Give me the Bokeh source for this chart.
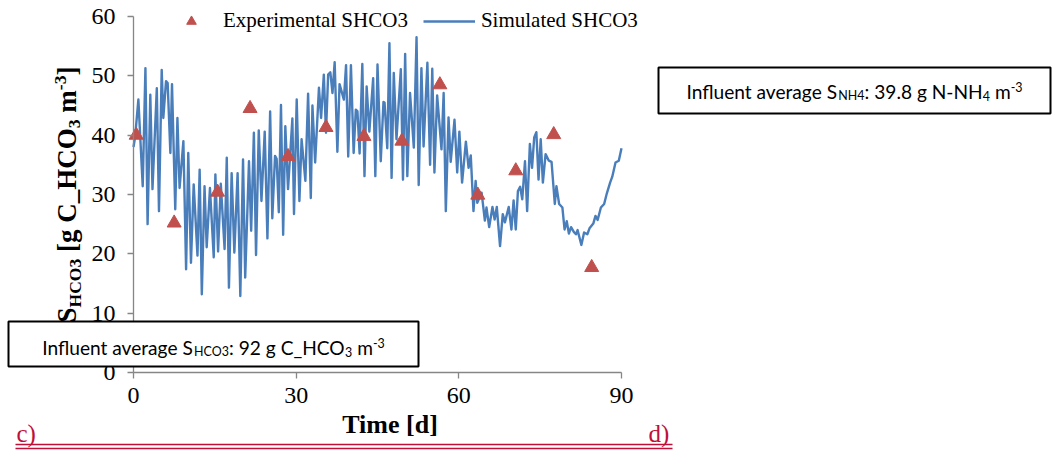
import glob, os, struct
from bokeh.plotting import figure
from bokeh.models import (Label, BoxAnnotation, Legend, LegendItem, FixedTicker,
                          Range1d, ColumnDataSource)
from bokeh.embed import file_html
from bokeh.resources import INLINE

# ---------------- data ----------------
exp_day = [0.5, 7.5, 15.5, 21.5, 28.5, 35.5, 42.5, 49.5, 56.5, 63.5, 70.5, 77.5, 84.5]
exp_shco3 = [40.0, 25.2, 30.4, 44.5, 36.4, 41.3, 39.8, 39.0, 48.5, 29.9, 34.0, 40.1, 17.7]

sim_day = [0.0, 0.3, 0.9, 1.7, 2.2, 2.6, 3.1, 3.5, 4.3, 4.7, 5.2, 5.5, 6.0, 6.3, 6.8, 7.1, 7.7, 8.1,
           8.5, 9.2, 9.7, 10.1, 10.6, 11.1, 11.8, 12.2, 12.6, 13.1, 13.5, 14.1, 14.8, 15.1, 15.6,
           16.1, 16.8, 17.2, 17.6, 18.1, 18.6, 19.2, 19.7, 20.2, 20.6, 21.3, 21.7, 22.2, 22.6, 23.1,
           23.6, 24.2, 24.7, 25.2, 25.6, 26.1, 26.4, 26.8, 27.2, 27.6, 28.0, 28.5, 29.3, 29.6, 30.1,
           30.6, 31.0, 31.7, 32.2, 32.7, 33.0, 33.5, 34.2, 34.6, 35.1, 35.5, 35.9, 36.3, 36.7, 37.1,
           37.6, 38.0, 38.8, 39.2, 39.6, 40.1, 40.6, 41.0, 41.3, 41.7, 42.2, 42.6, 43.0, 43.5, 44.2,
           44.6, 45.0, 45.6, 46.1, 46.3, 46.8, 47.2, 47.6, 48.0, 48.5, 49.3, 49.7, 50.1, 50.5, 51.0,
           51.7, 52.2, 52.6, 53.1, 53.5, 54.2, 54.7, 55.1, 55.5, 56.0, 56.8, 57.2, 57.6, 58.1, 58.5,
           59.2, 59.7, 60.1, 60.6, 61.3, 61.8, 62.2, 62.7, 63.1, 63.4, 64.2, 64.8, 65.1, 65.6, 66.2,
           66.6, 67.0, 67.6, 68.1, 68.5, 69.2, 69.7, 70.1, 70.5, 70.9, 71.3, 71.7, 72.2, 72.6, 73.1,
           73.5, 73.9, 74.3, 74.7, 75.1, 75.5, 76.0, 76.6, 77.1, 77.7, 78.0, 78.5, 79.1, 79.5, 79.9,
           80.3, 80.7, 81.2, 81.6, 81.9, 82.6, 83.1, 83.7, 84.1, 84.8, 85.2, 85.6, 86.2, 86.8, 87.3,
           87.9, 88.3, 88.9, 89.5, 90.0]
sim_shco3 = [38.0, 39.7, 46.0, 31.4, 51.3, 25.0, 46.8, 30.9, 47.9, 27.2, 51.0, 42.9, 49.1, 48.8, 37.0,
             48.6, 27.5, 42.9, 31.1, 39.0, 17.4, 37.0, 18.5, 31.7, 19.7, 34.2, 13.2, 31.4, 21.1, 31.1,
             19.4, 33.4, 20.4, 31.8, 20.8, 36.2, 14.3, 33.6, 20.2, 33.6, 12.9, 35.9, 16.0, 35.6, 23.9,
             40.4, 19.8, 40.8, 28.9, 40.6, 22.6, 44.0, 26.0, 36.5, 36.0, 27.0, 45.1, 23.2, 41.5, 30.9,
             42.8, 26.7, 46.0, 28.9, 39.3, 32.3, 47.0, 29.4, 45.0, 35.4, 48.0, 42.9, 50.2, 40.4, 50.2,
             50.6, 47.1, 52.3, 37.2, 48.6, 46.0, 51.8, 36.4, 51.8, 37.0, 44.3, 44.0, 36.9, 52.0, 33.1,
             48.2, 40.6, 49.6, 33.1, 51.9, 35.6, 45.6, 45.5, 37.8, 55.5, 32.8, 50.5, 39.3, 51.1, 32.5,
             53.7, 33.1, 47.1, 37.9, 56.5, 31.6, 51.3, 38.1, 52.2, 35.0, 51.2, 33.7, 46.7, 37.6, 47.1,
             27.2, 43.0, 35.5, 42.6, 33.7, 40.6, 32.0, 38.9, 34.5, 36.6, 27.2, 32.3, 28.6, 30.3, 25.6,
             27.8, 24.5, 27.9, 25.8, 27.9, 21.3, 26.7, 25.3, 27.9, 24.1, 29.0, 24.1, 30.6, 31.3, 29.2,
             35.6, 27.2, 38.5, 34.5, 39.6, 40.5, 32.5, 39.3, 32.0, 36.8, 35.7, 35.5, 28.4, 31.4, 28.4,
             27.8, 24.1, 25.5, 23.4, 24.5, 23.7, 23.3, 24.0, 21.5, 23.6, 23.3, 24.3, 25.1, 26.4, 25.7,
             27.8, 28.4, 30.2, 32.0, 33.0, 35.4, 35.7, 37.8]

x_ticks = [0, 30, 60, 90]
y_ticks = [0, 10, 20, 30, 40, 50, 60]
x_limits = (0, 90)
y_limits = (0, 60)

legend_labels = ["Experimental SHCO3", "Simulated SHCO3"]
x_title = "Time [d]"
y_title_pieces = [("S", "n"), ("HCO3", "sub"), (" [g C_HCO", "n"), ("3", "sub"),
                  (" m", "n"), ("-3", "sup"), ("]", "n")]
box1_pieces = [("Influent average S", "n"), ("NH4", "sub"), (": 39.8 g N-NH", "n"),
               ("4", "sub"), (" m", "n"), ("-3", "sup")]
box2_pieces = [("Influent average S", "n"), ("HCO3", "sub"), (": 92 g C_HCO", "n"),
               ("3", "sub"), (" m", "n"), ("-3", "sup")]
panel_left, panel_right = "c)", "d)"

# ---------------- font metrics helper (for placing sub/superscript pieces) ----------------
class FontMetrics:
    def __init__(self, patterns, default=0.5):
        self.default = default
        self.adv = None
        path = None
        roots = ["/usr/share/fonts", "/usr/local/share/fonts",
                 os.path.expanduser("~/.fonts"), os.path.expanduser("~/.local/share/fonts")]
        for pat in patterns:
            for root in roots:
                hits = sorted(glob.glob(os.path.join(root, "**", pat), recursive=True))
                if hits:
                    path = hits[0]
                    break
            if path:
                break
        if path:
            try:
                self._load(path)
            except Exception:
                self.adv = None

    def _load(self, path):
        d = open(path, "rb").read()
        base = 0
        if d[:4] == b"ttcf":
            base = struct.unpack(">I", d[12:16])[0]
        n = struct.unpack(">H", d[base + 4:base + 6])[0]
        tabs = {}
        for i in range(n):
            rec = base + 12 + 16 * i
            tabs[d[rec:rec + 4]] = struct.unpack(">I", d[rec + 8:rec + 12])[0]
        h = tabs[b"head"]
        self.upem = struct.unpack(">H", d[h + 18:h + 20])[0]
        hh = tabs[b"hhea"]
        nh = struct.unpack(">H", d[hh + 34:hh + 36])[0]
        hm = tabs[b"hmtx"]
        adv = [struct.unpack(">H", d[hm + 4 * i:hm + 4 * i + 2])[0] for i in range(nh)]
        cm = tabs[b"cmap"]
        nsub = struct.unpack(">H", d[cm + 2:cm + 4])[0]
        sub = None
        for i in range(nsub):
            pid, eid, so = struct.unpack(">HHI", d[cm + 4 + 8 * i:cm + 12 + 8 * i])
            fmt = struct.unpack(">H", d[cm + so:cm + so + 2])[0]
            if fmt == 4 and (pid == 0 or (pid == 3 and eid in (0, 1))):
                sub = cm + so
                break
        segx2 = struct.unpack(">H", d[sub + 6:sub + 8])[0]
        seg = segx2 // 2
        ends = struct.unpack(">%dH" % seg, d[sub + 14:sub + 14 + segx2])
        so_ = sub + 16 + segx2
        starts = struct.unpack(">%dH" % seg, d[so_:so_ + segx2])
        do_ = so_ + segx2
        deltas = struct.unpack(">%dh" % seg, d[do_:do_ + segx2])
        ro_ = do_ + segx2
        ros = struct.unpack(">%dH" % seg, d[ro_:ro_ + segx2])
        self._cm = (d, seg, ends, starts, deltas, ros, ro_)
        self.adv = adv

    def _glyph(self, ch):
        d, seg, ends, starts, deltas, ros, ro_ = self._cm
        c = ord(ch)
        for i in range(seg):
            if ends[i] >= c:
                if starts[i] > c:
                    return 0
                if ros[i] == 0:
                    return (c + deltas[i]) & 0xFFFF
                addr = ro_ + 2 * i + ros[i] + 2 * (c - starts[i])
                g = struct.unpack(">H", d[addr:addr + 2])[0]
                return (g + deltas[i]) & 0xFFFF if g else 0
        return 0

    def width(self, text):
        if self.adv is None:
            return self.default * len(text)
        tot = 0
        for ch in text:
            g = self._glyph(ch)
            tot += self.adv[min(g, len(self.adv) - 1)]
        return tot / self.upem


serif_bold = FontMetrics(["LiberationSerif-Bold.ttf"], 0.55)
lato = FontMetrics(["Lato-Regular.ttf", "Lato-Reg*.ttf"], 0.5)

# ---------------- layout constants (pixels in the 1062x450 page) ----------------
W, H = 1062, 450
FL, FR, FT, FB = 133, 621, 16, 372          # where the plot area of the reference lies
KX = (FR - FL) / (x_limits[1] - x_limits[0])
KY = (FB - FT) / (y_limits[1] - y_limits[0])
BASE_FIX = 0.35   # empirical: Label's alphabetic baseline lands this far (x font size) lower

def SX(px):
    return px

def SY(py):
    return H - py

SUB = 0.65

def run_widths(pieces, fs, fm):
    out, pos = [], 0.0
    for txt, kind in pieces:
        size = fs if kind == "n" else fs * SUB
        stripped = txt.lstrip(" ")
        lead = fm.width(txt[:len(txt) - len(stripped)]) * size
        out.append((stripped, kind, pos + lead, size))
        pos += fm.width(txt) * size
    return out, pos

def text_label(px, baseline_py, text, font, size, color="black", style="normal", align="left"):
    p.add_layout(Label(x=SX(px), y=SY(baseline_py - BASE_FIX * size), x_units="screen",
                       y_units="screen", text=text, text_font=font, text_font_style=style,
                       text_font_size="%.2fpx" % size, text_align=align,
                       text_baseline="alphabetic", text_color=color))

# ---------------- figure: frame covers the whole page, axes pinned at 0 ----------------
xr = Range1d(x_limits[0] - FL / KX, x_limits[1] + (W - FR) / KX)
yr = Range1d(y_limits[0] - (H - FB) / KY, y_limits[1] + FT / KY)
p = figure(width=W, height=H, output_backend="svg", toolbar_location=None,
           x_range=xr, y_range=yr, min_border_left=0, min_border_right=0,
           min_border_top=0, min_border_bottom=0, title=None)
p.background_fill_color = "white"
p.border_fill_color = "white"
p.outline_line_color = None
p.xgrid.visible = False
p.ygrid.visible = False

p.xaxis.ticker = FixedTicker(ticks=x_ticks)
p.yaxis.ticker = FixedTicker(ticks=y_ticks)
p.xaxis.fixed_location = y_limits[0]
p.yaxis.fixed_location = x_limits[0]
p.xaxis.bounds = x_limits
p.yaxis.bounds = y_limits
for ax in (p.xaxis, p.yaxis):
    ax.axis_line_color = "#868686"
    ax.axis_line_width = 1.3
    ax.major_tick_line_color = "#868686"
    ax.major_tick_line_width = 1.3
    ax.major_tick_in = 0
    ax.major_tick_out = 6
    ax.minor_tick_line_color = None
    ax.major_label_text_font = "Liberation Serif"
    ax.major_label_text_font_size = "24px"
    ax.major_label_text_color = "black"
p.xaxis.major_label_standoff = 9
p.yaxis.major_label_standoff = 12

src_sim = ColumnDataSource(dict(day=sim_day, v=sim_shco3))
src_exp = ColumnDataSource(dict(day=exp_day, v=exp_shco3))
r_line = p.line("day", "v", source=src_sim, line_color="#4A7EBB", line_width=2.4,
                line_join="round")
r_pts = p.scatter("day", "v", source=src_exp, marker="triangle", size=14,
                  fill_color="#C0504D", line_color="#C0504D")

legend = Legend(items=[LegendItem(label=legend_labels[0], renderers=[r_pts]),
                       LegendItem(label=legend_labels[1], renderers=[r_line])],
                orientation="horizontal", location=(165, H - 33),
                padding=0, margin=0, spacing=15, label_standoff=6,
                glyph_width=52, glyph_height=24, label_height=24,
                border_line_color=None, background_fill_alpha=0,
                label_text_font="Liberation Serif", label_text_font_size="21px",
                label_text_color="black")
p.add_layout(legend)

# y-axis title, rotated, built from pieces (drawn before the box that hides its start)
YFS = 27
ylay, ylen = run_widths(y_title_pieces, YFS, serif_bold)
y_start = (FT + FB) / 2 + ylen / 2
ybase_x = 76
for txt, kind, pos, size in ylay:
    dx = 0 if kind == "n" else (0.16 * YFS if kind == "sub" else -0.36 * YFS)
    p.add_layout(Label(x=SX(ybase_x + dx - BASE_FIX * size), y=SY(y_start - pos),
                       x_units="screen", y_units="screen", text=txt, angle=90,
                       angle_units="deg", text_font="Liberation Serif",
                       text_font_style="bold", text_font_size="%.2fpx" % size,
                       text_align="left", text_baseline="alphabetic", text_color="black"))

# x-axis title
text_label(389.5, 433, x_title, "Liberation Serif", 26, style="bold", align="center")

# text boxes
_, w1 = run_widths(box1_pieces, 1.0, lato)
BFS = 336.0 / w1 if w1 > 0 else 20

def text_box(pieces, left, right, top, bottom, baseline):
    p.add_layout(BoxAnnotation(left=SX(left), right=SX(right), top=SY(top), bottom=SY(bottom),
                               left_units="screen", right_units="screen",
                               top_units="screen", bottom_units="screen",
                               fill_color="white", fill_alpha=1.0,
                               line_color="black", line_alpha=1.0, line_width=2))
    lay, tot = run_widths(pieces, BFS, lato)
    x0 = (left + right) / 2 - tot / 2
    for txt, kind, pos, size in lay:
        dy = 0 if kind == "n" else (0.08 * BFS if kind == "sub" else -0.38 * BFS)
        text_label(x0 + pos, baseline + dy, txt, "Lato", size)

text_box(box1_pieces, 658, 1050, 67, 113, 98)
text_box(box2_pieces, 8, 418, 321, 366, 354)

# panel marks with double underline
CRIMSON = "#C0103A"
for yy in (444, 448):
    p.add_layout(BoxAnnotation(left=SX(15), right=SX(672), top=SY(yy - 0.7), bottom=SY(yy + 0.7),
                               left_units="screen", right_units="screen",
                               top_units="screen", bottom_units="screen",
                               fill_color=CRIMSON, fill_alpha=1.0, line_color=None))
text_label(16, 442, panel_left, "Liberation Serif", 25, color=CRIMSON)
text_label(648, 442, panel_right, "Liberation Serif", 25, color=CRIMSON)

open("out.html", "w").write(file_html(p, INLINE))
